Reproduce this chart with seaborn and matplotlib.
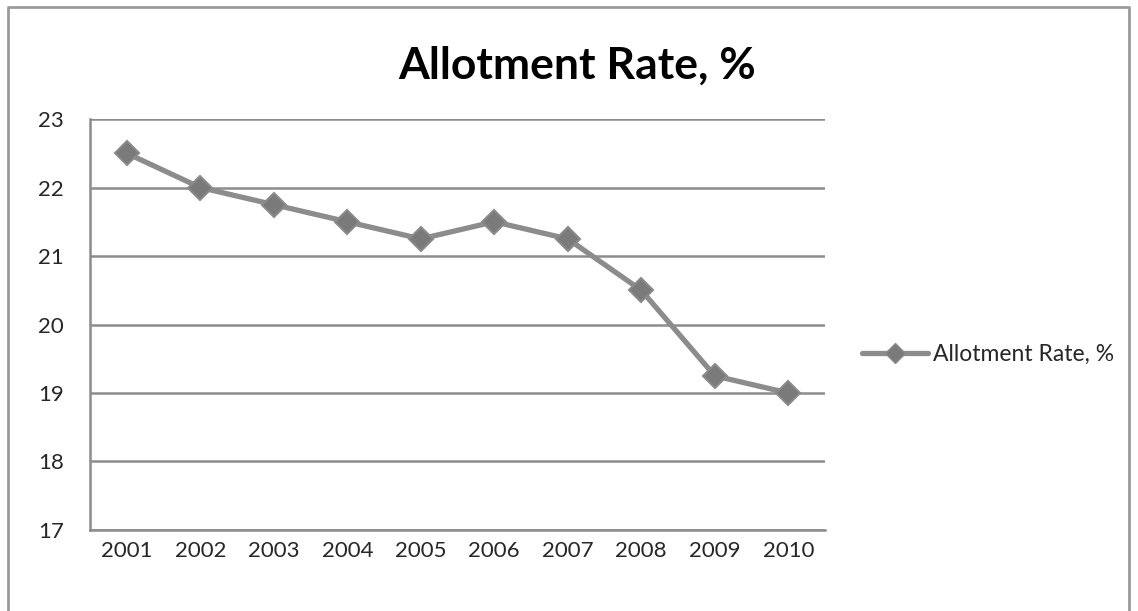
import numpy as np
import pandas as pd
import seaborn as sns
import matplotlib.pyplot as plt
from matplotlib.lines import Line2D

# chart data
years = ['2001', '2002', '2003', '2004', '2005', '2006', '2007', '2008', '2009', '2010']
rate = [22.5, 22.0, 21.75, 21.5, 21.25, 21.5, 21.25, 20.5, 19.25, 19.0]
series_name = 'Allotment Rate, %'

df = pd.DataFrame({'pos': np.arange(len(years)), 'rate': rate})

sns.set_style('white')
plt.rcParams['font.family'] = ['Lato', 'DejaVu Sans']

grey = '#8c8c8c'
fig = plt.figure(figsize=(11.38, 6.11), dpi=100)
ax = fig.add_axes([0.0791, 0.1326, 0.6459, 0.6726])

sns.lineplot(data=df, x='pos', y='rate', ax=ax, color=grey, linewidth=3.8,
             marker='D', markersize=12, markerfacecolor='#7a7a7a',
             markeredgecolor='#8a8a8a', markeredgewidth=1.5, legend=False)

ax.set_ylim(17, 23)
ax.set_yticks(range(17, 24))
ax.set_xlim(-0.5, len(years) - 0.5)
ax.set_xticks(np.arange(-0.5, len(years), 1.0))
ax.set_xticklabels([])
ax.set_xticks(np.arange(len(years)), minor=True)
ax.set_xticklabels(years, minor=True)
ax.tick_params(axis='x', which='major', length=7, width=1.5, color=grey, direction='out')
ax.tick_params(axis='x', which='minor', length=0, labelsize=16, pad=8)
ax.tick_params(axis='y', length=7, width=1.5, color=grey, labelsize=16, pad=12)
ax.yaxis.grid(True, color=grey, linewidth=1.8)
ax.set_axisbelow(True)
for s in ['top', 'right']:
    ax.spines[s].set_visible(False)
for s in ['left', 'bottom']:
    ax.spines[s].set_color(grey)
    ax.spines[s].set_linewidth(1.8)
ax.set_xlabel('')
ax.set_ylabel('')

fig.text(0.507, 0.893, series_name, ha='center', va='center',
         fontsize=32, fontweight='bold', color='black')

handle = Line2D([0], [0], color=grey, linewidth=3.8, marker='D', markersize=10,
                markerfacecolor='#7a7a7a', markeredgecolor='#8a8a8a')
fig.legend([handle], [series_name], loc='center left', bbox_to_anchor=(0.739, 0.42),
           frameon=False, fontsize=16.5, handlelength=2.9, handletextpad=0.2)

# outer chart border
fig.add_artist(Line2D([0.007, 0.007, 0.992, 0.992], [0.0, 0.989, 0.989, 0.0],
                      transform=fig.transFigure, color='#9a9a9a', linewidth=2))

fig.savefig('out.png', dpi=100)
